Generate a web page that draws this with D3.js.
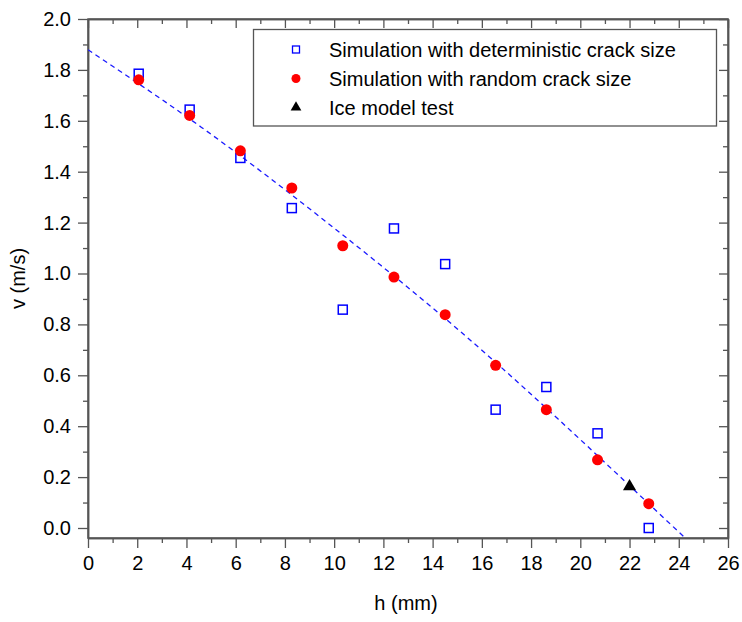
<!DOCTYPE html>
<html><head><meta charset="utf-8">
<script src="https://cdn.jsdelivr.net/npm/d3@7"></script>
<style>body{margin:0;background:#fff}svg{display:block}text{font-family:Arial,"Liberation Sans",sans-serif}</style>
</head><body><svg id="c" width="742" height="622"></svg>
<script>
const hValues = [2.06, 4.13, 6.19, 8.28, 10.35, 12.43, 14.51, 16.56, 18.62, 20.7, 22.78];
const vDeterministic = [1.785, 1.644, 1.454, 1.257, 0.858, 1.177, 1.037, 0.465, 0.554, 0.372, 0.0];
const vRandom = [1.761, 1.621, 1.482, 1.336, 1.109, 0.986, 0.838, 0.639, 0.465, 0.268, 0.0955];
const iceH = [22.0];
const iceV = [0.163];
const fitH = [0, 4.6, 9.4, 14.4, 19.1, 24.2];
const fitV = [1.879, 1.575, 1.224, 0.832, 0.428, -0.034];
const xTicks = [0,2,4,6,8,10,12,14,16,18,20,22,24,26];
const yTicks = [0.0,0.2,0.4,0.6,0.8,1.0,1.2,1.4,1.6,1.8,2.0];
const legendLabels = ["Simulation with deterministic crack size","Simulation with random crack size","Ice model test"];

const svg = d3.select("#c");
const L=88, R=728, T=19, B=538;
const x = d3.scaleLinear().domain([0,26]).range([L,R]);
const y = d3.scaleLinear().domain([-0.0393,2.0]).range([B,T]);
const axisCol = "#555";
const fs = 20;

function styleAxis(g){
  g.selectAll("path").attr("stroke",axisCol).attr("stroke-width",1.5);
  g.selectAll("line").attr("stroke",axisCol).attr("stroke-width",1.3);
  g.selectAll("text").attr("font-size",fs).attr("fill","#000");
}
const xMinor = d3.range(0,27,1).filter(d=>d%2!==0);
const yMinor = d3.range(1,20,2).map(d=>d/10);

// bottom
svg.append("g").attr("transform",`translate(0,${B})`)
  .call(d3.axisBottom(x).tickValues(xTicks).tickFormat(d3.format("d")).tickSizeInner(10).tickSizeOuter(0).tickPadding(8)).call(styleAxis);
svg.append("g").attr("transform",`translate(0,${B})`)
  .call(d3.axisBottom(x).tickValues(xMinor).tickFormat("").tickSizeInner(5).tickSizeOuter(0)).call(styleAxis);
// left
svg.append("g").attr("transform",`translate(${L},0)`)
  .call(d3.axisLeft(y).tickValues(yTicks).tickFormat(d3.format(".1f")).tickSizeInner(10).tickSizeOuter(0).tickPadding(7)).call(styleAxis);
svg.append("g").attr("transform",`translate(${L},0)`)
  .call(d3.axisLeft(y).tickValues(yMinor).tickFormat("").tickSizeInner(5).tickSizeOuter(0)).call(styleAxis);
// top (inward)
svg.append("g").attr("transform",`translate(0,${T})`)
  .call(d3.axisTop(x).tickValues(xTicks).tickFormat("").tickSizeInner(-9).tickSizeOuter(0)).call(styleAxis);
svg.append("g").attr("transform",`translate(0,${T})`)
  .call(d3.axisTop(x).tickValues(xMinor).tickFormat("").tickSizeInner(-5).tickSizeOuter(0)).call(styleAxis);
// right (inward)
svg.append("g").attr("transform",`translate(${R},0)`)
  .call(d3.axisRight(y).tickValues(yTicks).tickFormat("").tickSizeInner(-9).tickSizeOuter(0)).call(styleAxis);
svg.append("g").attr("transform",`translate(${R},0)`)
  .call(d3.axisRight(y).tickValues(yMinor).tickFormat("").tickSizeInner(-5).tickSizeOuter(0)).call(styleAxis);
svg.append("rect").attr("x",L).attr("y",T).attr("width",R-L).attr("height",B-T)
  .attr("fill","none").attr("stroke",axisCol).attr("stroke-width",1.5);

// axis titles
svg.append("text").attr("x",(L+R)/2-2).attr("y",610).attr("text-anchor","middle").attr("font-size",fs).text("h (mm)");
svg.append("text").attr("transform",`translate(25,${(T+B)/2}) rotate(-90)`).attr("text-anchor","middle").attr("font-size",fs).text("v (m/s)");

svg.append("clipPath").attr("id","clip").append("rect").attr("x",L).attr("y",T).attr("width",R-L).attr("height",B-T);

// fit line
const fit = fitH.map((h,i)=>[h,fitV[i]]);
svg.append("path").datum(fit).attr("clip-path","url(#clip)")
  .attr("d",d3.line().x(d=>x(d[0])).y(d=>y(d[1])).curve(d3.curveNatural))
  .attr("fill","none").attr("stroke","#1a1aff").attr("stroke-width",1.3).attr("stroke-dasharray","5,4");

// deterministic squares
const sq = 9;
svg.append("g").selectAll("rect").data(hValues.map((h,i)=>[h,vDeterministic[i]])).join("rect")
  .attr("x",d=>x(d[0])-sq/2).attr("y",d=>y(d[1])-sq/2).attr("width",sq).attr("height",sq)
  .attr("fill","none").attr("stroke","#0000ff").attr("stroke-width",1.5);
// random circles
svg.append("g").selectAll("circle").data(hValues.map((h,i)=>[h,vRandom[i]])).join("circle")
  .attr("cx",d=>x(d[0])).attr("cy",d=>y(d[1])).attr("r",5.5).attr("fill","#ff0000");
// ice triangle
const tri = d3.symbol().type(d3.symbolTriangle).size(75);
svg.append("g").selectAll("path").data(iceH.map((h,i)=>[h,iceV[i]])).join("path")
  .attr("transform",d=>`translate(${x(d[0])},${y(d[1])})`).attr("d",tri).attr("fill","#000");

// legend
const lg = svg.append("g");
lg.append("rect").attr("x",253.5).attr("y",29.5).attr("width",463).attr("height",96.5)
  .attr("fill","#fff").attr("stroke",axisCol).attr("stroke-width",1.3);
const rows=[49.5,78.5,107.5];
lg.append("rect").attr("x",296-3.5).attr("y",rows[0]-3.5).attr("width",7).attr("height",7).attr("fill","none").attr("stroke","#0000ff").attr("stroke-width",1.3);
lg.append("circle").attr("cx",296).attr("cy",rows[1]).attr("r",4.5).attr("fill","#ff0000");
lg.append("path").attr("transform",`translate(296,${rows[2]})`).attr("d",d3.symbol().type(d3.symbolTriangle).size(50)).attr("fill","#000");
legendLabels.forEach((t,i)=>{
  lg.append("text").attr("x",329).attr("y",rows[i]).attr("dy","0.35em").attr("font-size",fs).text(t);
});
</script></body></html>
